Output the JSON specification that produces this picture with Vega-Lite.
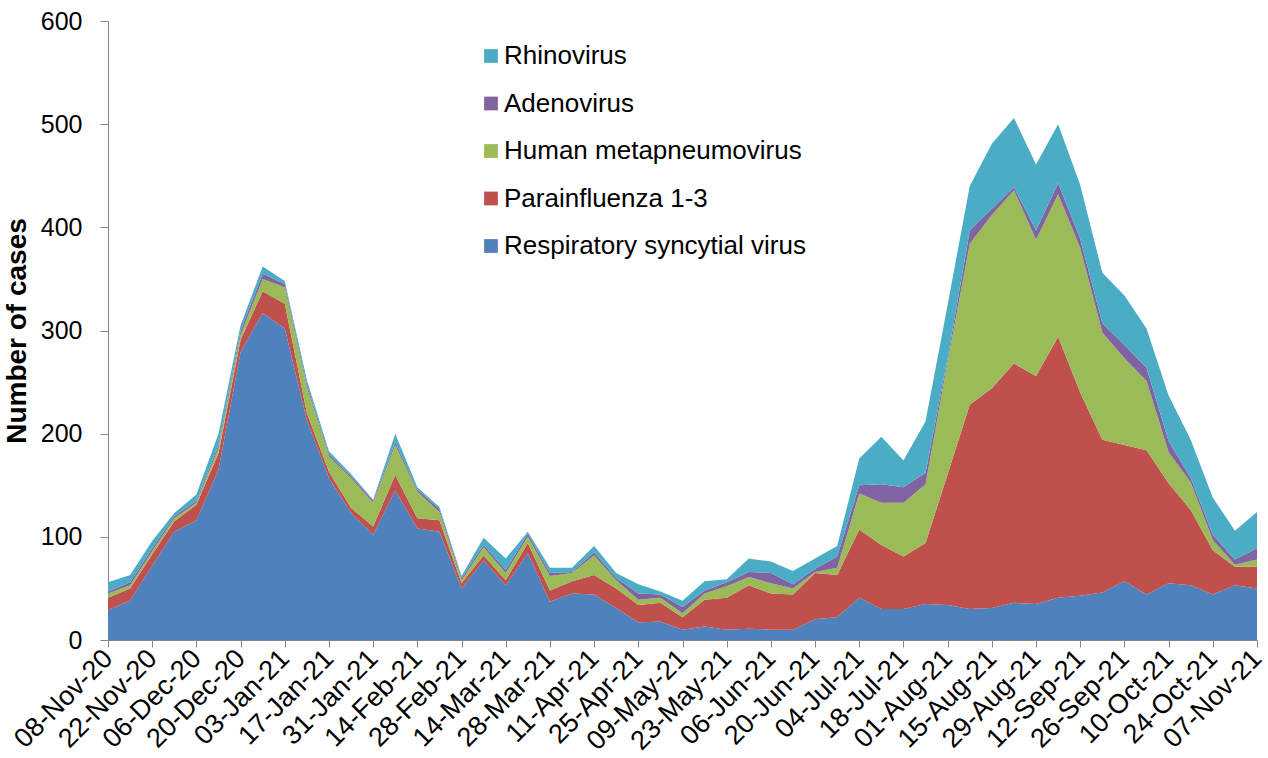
{
  "$schema": "https://vega.github.io/schema/vega-lite/v6.json",
  "autosize": {"type": "none"},
  "width": 1149,
  "height": 619,
  "padding": {"left": 108, "top": 21, "right": 11, "bottom": 118},
  "background": "white",
  "config": {
    "view": {"stroke": null},
    "font": "Liberation Sans",
    "axis": {"domainColor": "#868686", "tickColor": "#868686", "labelColor": "black", "labelFont": "Liberation Sans", "titleFont": "Liberation Sans", "grid": false}
  },
  "data": {
    "values": [
      {"w": "08-Nov-20", "Respiratory syncytial virus": 29, "Parainfluenza 1-3": 12, "Human metapneumovirus": 4, "Adenovirus": 2, "Rhinovirus": 9},
      {"w": "15-Nov-20", "Respiratory syncytial virus": 38, "Parainfluenza 1-3": 12, "Human metapneumovirus": 3, "Adenovirus": 3, "Rhinovirus": 7},
      {"w": "22-Nov-20", "Respiratory syncytial virus": 72, "Parainfluenza 1-3": 11, "Human metapneumovirus": 3, "Adenovirus": 3, "Rhinovirus": 7},
      {"w": "29-Nov-20", "Respiratory syncytial virus": 105, "Parainfluenza 1-3": 10, "Human metapneumovirus": 3, "Adenovirus": 2, "Rhinovirus": 3},
      {"w": "06-Dec-20", "Respiratory syncytial virus": 116, "Parainfluenza 1-3": 15, "Human metapneumovirus": 2, "Adenovirus": 2, "Rhinovirus": 6},
      {"w": "13-Dec-20", "Respiratory syncytial virus": 165, "Parainfluenza 1-3": 16, "Human metapneumovirus": 5, "Adenovirus": 3, "Rhinovirus": 11},
      {"w": "20-Dec-20", "Respiratory syncytial virus": 279, "Parainfluenza 1-3": 12, "Human metapneumovirus": 5, "Adenovirus": 4, "Rhinovirus": 5},
      {"w": "27-Dec-20", "Respiratory syncytial virus": 317, "Parainfluenza 1-3": 21, "Human metapneumovirus": 12, "Adenovirus": 5, "Rhinovirus": 7},
      {"w": "03-Jan-21", "Respiratory syncytial virus": 302, "Parainfluenza 1-3": 24, "Human metapneumovirus": 16, "Adenovirus": 3, "Rhinovirus": 3},
      {"w": "10-Jan-21", "Respiratory syncytial virus": 213, "Parainfluenza 1-3": 7, "Human metapneumovirus": 25, "Adenovirus": 3, "Rhinovirus": 4},
      {"w": "17-Jan-21", "Respiratory syncytial virus": 157, "Parainfluenza 1-3": 6, "Human metapneumovirus": 15, "Adenovirus": 2, "Rhinovirus": 3},
      {"w": "24-Jan-21", "Respiratory syncytial virus": 123, "Parainfluenza 1-3": 5, "Human metapneumovirus": 29, "Adenovirus": 2, "Rhinovirus": 2},
      {"w": "31-Jan-21", "Respiratory syncytial virus": 102, "Parainfluenza 1-3": 8, "Human metapneumovirus": 23, "Adenovirus": 2, "Rhinovirus": 1},
      {"w": "07-Feb-21", "Respiratory syncytial virus": 145, "Parainfluenza 1-3": 15, "Human metapneumovirus": 29, "Adenovirus": 3, "Rhinovirus": 8},
      {"w": "14-Feb-21", "Respiratory syncytial virus": 108, "Parainfluenza 1-3": 10, "Human metapneumovirus": 26, "Adenovirus": 2, "Rhinovirus": 2},
      {"w": "21-Feb-21", "Respiratory syncytial virus": 105, "Parainfluenza 1-3": 11, "Human metapneumovirus": 8, "Adenovirus": 3, "Rhinovirus": 2},
      {"w": "28-Feb-21", "Respiratory syncytial virus": 50, "Parainfluenza 1-3": 5, "Human metapneumovirus": 3, "Adenovirus": 2, "Rhinovirus": 2},
      {"w": "07-Mar-21", "Respiratory syncytial virus": 77, "Parainfluenza 1-3": 5, "Human metapneumovirus": 8, "Adenovirus": 2, "Rhinovirus": 7},
      {"w": "14-Mar-21", "Respiratory syncytial virus": 53, "Parainfluenza 1-3": 5, "Human metapneumovirus": 7, "Adenovirus": 3, "Rhinovirus": 11},
      {"w": "21-Mar-21", "Respiratory syncytial virus": 84, "Parainfluenza 1-3": 10, "Human metapneumovirus": 6, "Adenovirus": 3, "Rhinovirus": 2},
      {"w": "28-Mar-21", "Respiratory syncytial virus": 37, "Parainfluenza 1-3": 11, "Human metapneumovirus": 14, "Adenovirus": 3, "Rhinovirus": 5},
      {"w": "04-Apr-21", "Respiratory syncytial virus": 45, "Parainfluenza 1-3": 12, "Human metapneumovirus": 8, "Adenovirus": 1, "Rhinovirus": 4},
      {"w": "11-Apr-21", "Respiratory syncytial virus": 44, "Parainfluenza 1-3": 19, "Human metapneumovirus": 19, "Adenovirus": 3, "Rhinovirus": 6},
      {"w": "18-Apr-21", "Respiratory syncytial virus": 31, "Parainfluenza 1-3": 19, "Human metapneumovirus": 8, "Adenovirus": 2, "Rhinovirus": 5},
      {"w": "25-Apr-21", "Respiratory syncytial virus": 17, "Parainfluenza 1-3": 17, "Human metapneumovirus": 5, "Adenovirus": 6, "Rhinovirus": 9},
      {"w": "02-May-21", "Respiratory syncytial virus": 18, "Parainfluenza 1-3": 18, "Human metapneumovirus": 5, "Adenovirus": 3, "Rhinovirus": 3},
      {"w": "09-May-21", "Respiratory syncytial virus": 10, "Parainfluenza 1-3": 12, "Human metapneumovirus": 4, "Adenovirus": 6, "Rhinovirus": 6},
      {"w": "16-May-21", "Respiratory syncytial virus": 13, "Parainfluenza 1-3": 26, "Human metapneumovirus": 6, "Adenovirus": 3, "Rhinovirus": 9},
      {"w": "23-May-21", "Respiratory syncytial virus": 10, "Parainfluenza 1-3": 31, "Human metapneumovirus": 11, "Adenovirus": 4, "Rhinovirus": 3},
      {"w": "30-May-21", "Respiratory syncytial virus": 11, "Parainfluenza 1-3": 42, "Human metapneumovirus": 8, "Adenovirus": 5, "Rhinovirus": 13},
      {"w": "06-Jun-21", "Respiratory syncytial virus": 10, "Parainfluenza 1-3": 35, "Human metapneumovirus": 10, "Adenovirus": 10, "Rhinovirus": 11},
      {"w": "13-Jun-21", "Respiratory syncytial virus": 10, "Parainfluenza 1-3": 34, "Human metapneumovirus": 6, "Adenovirus": 4, "Rhinovirus": 13},
      {"w": "20-Jun-21", "Respiratory syncytial virus": 20, "Parainfluenza 1-3": 45, "Human metapneumovirus": 1, "Adenovirus": 3, "Rhinovirus": 10},
      {"w": "27-Jun-21", "Respiratory syncytial virus": 22, "Parainfluenza 1-3": 41, "Human metapneumovirus": 7, "Adenovirus": 11, "Rhinovirus": 10},
      {"w": "04-Jul-21", "Respiratory syncytial virus": 41, "Parainfluenza 1-3": 66, "Human metapneumovirus": 35, "Adenovirus": 8, "Rhinovirus": 26},
      {"w": "11-Jul-21", "Respiratory syncytial virus": 30, "Parainfluenza 1-3": 62, "Human metapneumovirus": 41, "Adenovirus": 18, "Rhinovirus": 46},
      {"w": "18-Jul-21", "Respiratory syncytial virus": 30, "Parainfluenza 1-3": 51, "Human metapneumovirus": 52, "Adenovirus": 15, "Rhinovirus": 26},
      {"w": "25-Jul-21", "Respiratory syncytial virus": 35, "Parainfluenza 1-3": 59, "Human metapneumovirus": 57, "Adenovirus": 11, "Rhinovirus": 50},
      {"w": "01-Aug-21", "Respiratory syncytial virus": 34, "Parainfluenza 1-3": 127, "Human metapneumovirus": 109, "Adenovirus": 3, "Rhinovirus": 52},
      {"w": "08-Aug-21", "Respiratory syncytial virus": 30, "Parainfluenza 1-3": 198, "Human metapneumovirus": 156, "Adenovirus": 13, "Rhinovirus": 43},
      {"w": "15-Aug-21", "Respiratory syncytial virus": 31, "Parainfluenza 1-3": 213, "Human metapneumovirus": 168, "Adenovirus": 6, "Rhinovirus": 63},
      {"w": "22-Aug-21", "Respiratory syncytial virus": 36, "Parainfluenza 1-3": 232, "Human metapneumovirus": 168, "Adenovirus": 3, "Rhinovirus": 67},
      {"w": "29-Aug-21", "Respiratory syncytial virus": 35, "Parainfluenza 1-3": 221, "Human metapneumovirus": 132, "Adenovirus": 9, "Rhinovirus": 64},
      {"w": "05-Sep-21", "Respiratory syncytial virus": 41, "Parainfluenza 1-3": 253, "Human metapneumovirus": 138, "Adenovirus": 11, "Rhinovirus": 57},
      {"w": "12-Sep-21", "Respiratory syncytial virus": 43, "Parainfluenza 1-3": 197, "Human metapneumovirus": 140, "Adenovirus": 9, "Rhinovirus": 52},
      {"w": "19-Sep-21", "Respiratory syncytial virus": 46, "Parainfluenza 1-3": 148, "Human metapneumovirus": 104, "Adenovirus": 9, "Rhinovirus": 49},
      {"w": "26-Sep-21", "Respiratory syncytial virus": 57, "Parainfluenza 1-3": 132, "Human metapneumovirus": 84, "Adenovirus": 13, "Rhinovirus": 48},
      {"w": "03-Oct-21", "Respiratory syncytial virus": 44, "Parainfluenza 1-3": 140, "Human metapneumovirus": 67, "Adenovirus": 13, "Rhinovirus": 38},
      {"w": "10-Oct-21", "Respiratory syncytial virus": 55, "Parainfluenza 1-3": 97, "Human metapneumovirus": 30, "Adenovirus": 11, "Rhinovirus": 44},
      {"w": "17-Oct-21", "Respiratory syncytial virus": 53, "Parainfluenza 1-3": 73, "Human metapneumovirus": 27, "Adenovirus": 4, "Rhinovirus": 37},
      {"w": "24-Oct-21", "Respiratory syncytial virus": 44, "Parainfluenza 1-3": 43, "Human metapneumovirus": 10, "Adenovirus": 5, "Rhinovirus": 36},
      {"w": "31-Oct-21", "Respiratory syncytial virus": 53, "Parainfluenza 1-3": 18, "Human metapneumovirus": 2, "Adenovirus": 5, "Rhinovirus": 28},
      {"w": "07-Nov-21", "Respiratory syncytial virus": 50, "Parainfluenza 1-3": 21, "Human metapneumovirus": 7, "Adenovirus": 11, "Rhinovirus": 35}
    ]
  },
  "transform": [
    {"fold": ["Respiratory syncytial virus", "Parainfluenza 1-3", "Human metapneumovirus", "Adenovirus", "Rhinovirus"], "as": ["virus", "n"]},
    {"lookup": "virus", "from": {"data": {"values": [
      {"virus": "Respiratory syncytial virus", "rank": 1},
      {"virus": "Parainfluenza 1-3", "rank": 2},
      {"virus": "Human metapneumovirus", "rank": 3},
      {"virus": "Adenovirus", "rank": 4},
      {"virus": "Rhinovirus", "rank": 5}
    ]}, "key": "virus", "fields": ["rank"]}}
  ],
  "mark": {"type": "area", "interpolate": "linear"},
  "encoding": {
    "x": {
      "field": "w", "type": "ordinal", "sort": null,
      "scale": {"type": "point", "padding": 0},
      "axis": {
        "title": null,
        "values": ["08-Nov-20", "22-Nov-20", "06-Dec-20", "20-Dec-20", "03-Jan-21", "17-Jan-21", "31-Jan-21", "14-Feb-21", "28-Feb-21", "14-Mar-21", "28-Mar-21", "11-Apr-21", "25-Apr-21", "09-May-21", "23-May-21", "06-Jun-21", "20-Jun-21", "04-Jul-21", "18-Jul-21", "01-Aug-21", "15-Aug-21", "29-Aug-21", "12-Sep-21", "26-Sep-21", "10-Oct-21", "24-Oct-21", "07-Nov-21"],
        "labelAngle": -45, "labelAlign": "right", "labelBaseline": "middle",
        "labelFontSize": 27, "labelPadding": 7, "tickSize": 7, "labelOverlap": false, "labelBound": false
      }
    },
    "y": {
      "field": "n", "type": "quantitative", "stack": "zero",
      "scale": {"domain": [0, 600], "nice": false},
      "axis": {
        "title": "Number of cases", "titleFontSize": 28, "titleFontWeight": "bold", "titlePadding": 9,
        "values": [0, 100, 200, 300, 400, 500, 600],
        "labelFontSize": 25, "labelPadding": 18, "tickSize": 8
      }
    },
    "order": {"field": "rank", "type": "quantitative", "sort": "ascending"},
    "color": {
      "field": "virus", "type": "nominal",
      "scale": {
        "domain": ["Rhinovirus", "Adenovirus", "Human metapneumovirus", "Parainfluenza 1-3", "Respiratory syncytial virus"],
        "range": ["#4BACC6", "#8064A2", "#9BBB59", "#C0504D", "#4F81BD"]
      },
      "legend": {
        "title": null, "orient": "none", "legendX": 370, "legendY": 22,
        "symbolType": "square", "symbolSize": 190, "symbolStrokeWidth": 0, "symbolOpacity": 1,
        "labelFontSize": 26, "labelFont": "Liberation Sans", "labelColor": "black", "labelLimit": 500,
        "rowPadding": 21.5, "labelOffset": 0
      }
    }
  }
}
